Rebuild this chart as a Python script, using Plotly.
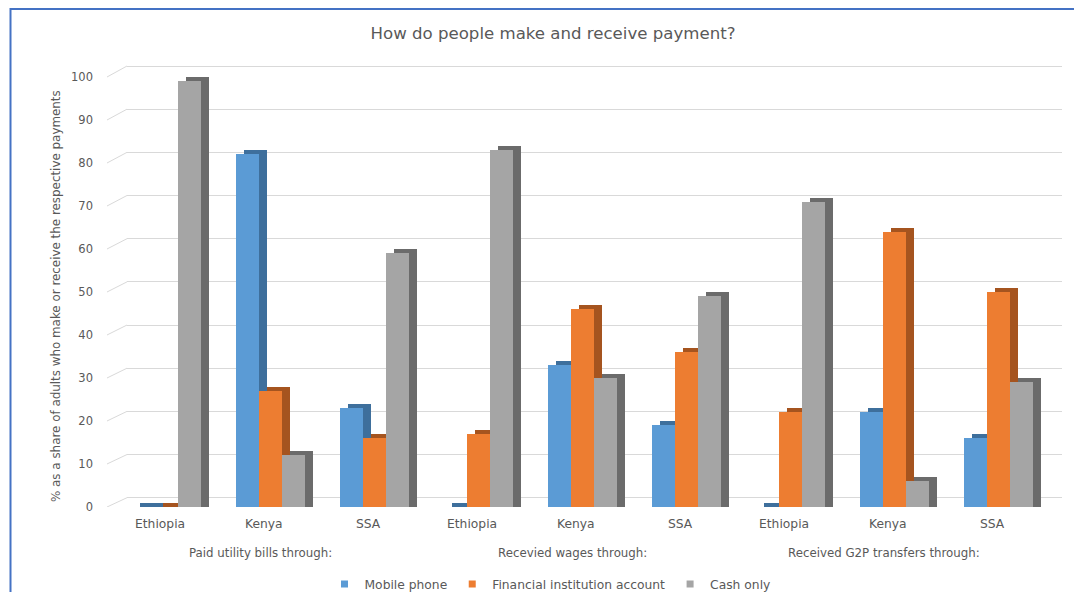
import plotly.graph_objects as go

# ---------------- data ----------------
categories = ["Ethiopia", "Kenya", "SSA", "Ethiopia", "Kenya", "SSA", "Ethiopia", "Kenya", "SSA"]
group_labels = ["Paid utility bills through:", "Recevied wages through:", "Received G2P transfers through:"]
series_names = ["Mobile phone", "Financial institution account", "Cash only"]
mobile_phone = [0, 82, 23, 0, 33, 19, 0, 22, 16]
financial_account = [0, 27, 16, 17, 46, 36, 22, 64, 50]
cash_only = [99, 12, 59, 83, 30, 49, 71, 6, 29]
y_tick_values = [0, 10, 20, 30, 40, 50, 60, 70, 80, 90, 100]

# ---------------- styling / geometry ----------------
PAGE_PAD = 8  # default body margin of the html page
W, H = 1082 - 2 * PAGE_PAD, 600 - 2 * PAGE_PAD
PLOT_LEFT, PLOT_RIGHT, PLOT_TOP, PLOT_BOTTOM = 127, 1062, 64, 507   # in screenshot pixels
ML = PLOT_LEFT - PAGE_PAD
MR = W - (PLOT_RIGHT - PAGE_PAD)
MT = PLOT_TOP - PAGE_PAD
MB = H - (PLOT_BOTTOM - PAGE_PAD)
PW, PH = W - ML - MR, H - MT - MB

PX_PER_UNIT_Y = 4.3         # front plane
PX_PER_UNIT_Y_BACK = 4.317  # back wall
BACK_SHIFT_PX = 9.3
PX_PER_CAT = 104.0
X0_PX = 39.0                # first category centre, from plot left

front_colors = ["#5B9BD5", "#ED7D31", "#A5A5A5"]
side_colors = ["#3E6F9C", "#A5541F", "#6B6B6B"]
TXT = "#595959"
FONT = "DejaVu Sans"

bar_w = 23.0 / PX_PER_CAT
depth_dx = 8.0 / PX_PER_CAT
depth_dy = 4.0 / PX_PER_UNIT_Y

x_lo = -X0_PX / PX_PER_CAT
x_hi = x_lo + PW / PX_PER_CAT
y_hi = PH / PX_PER_UNIT_Y
y2_lo = -BACK_SHIFT_PX / PX_PER_UNIT_Y_BACK
y2_hi = y2_lo + PH / PX_PER_UNIT_Y_BACK


def px_to_paper_x(px):  # px in screenshot coordinates
    return (px - PLOT_LEFT) / PW


def px_to_paper_y(py):
    return (PLOT_BOTTOM - py) / PH


xpos = list(range(len(categories)))
series_vals = [mobile_phone, financial_account, cash_only]

fig = go.Figure()

# side/top faces (drawn first)
for s, vals in enumerate(series_vals):
    off = -1.5 * bar_w + s * bar_w + depth_dx
    fig.add_trace(go.Bar(
        x=xpos, y=[v + depth_dy for v in vals], base=0,
        width=bar_w, offset=off,
        marker=dict(color=side_colors[s], line=dict(width=0)),
        showlegend=False, hoverinfo="skip",
    ))

# front faces
for s, vals in enumerate(series_vals):
    off = -1.5 * bar_w + s * bar_w
    fig.add_trace(go.Bar(
        x=xpos, y=vals, name=series_names[s],
        width=bar_w, offset=off,
        marker=dict(color=front_colors[s], line=dict(width=0)),
        showlegend=False,
    ))

# legend entries (small square swatches)
for s in range(3):
    fig.add_trace(go.Scatter(
        x=[None], y=[None], mode="markers", name=series_names[s],
        marker=dict(symbol="square", size=7, color=front_colors[s]),
        showlegend=True, hoverinfo="skip",
    ))

# invisible trace carrying the back-wall gridline axis
fig.add_trace(go.Scatter(x=[0], y=[0], yaxis="y2", mode="markers",
                         marker=dict(opacity=0), showlegend=False, hoverinfo="skip"))

shapes = []
# diagonal connectors from front ticks to the back wall
for v in y_tick_values:
    back_px_above = BACK_SHIFT_PX + PX_PER_UNIT_Y_BACK * v
    shapes.append(dict(type="line", xref="paper", yref="y", layer="below",
                       x0=-20.0 / PW, x1=0, y0=v, y1=back_px_above / PX_PER_UNIT_Y,
                       line=dict(color="#D9D9D9", width=1)))

# outer frame (blue border on top and left)
shapes.append(dict(type="line", xref="paper", yref="paper",
                   x0=px_to_paper_x(10), x1=px_to_paper_x(1090),
                   y0=px_to_paper_y(9), y1=px_to_paper_y(9),
                   line=dict(color="#4472C4", width=2)))
shapes.append(dict(type="line", xref="paper", yref="paper",
                   x0=px_to_paper_x(10.5), x1=px_to_paper_x(10.5),
                   y0=px_to_paper_y(8), y1=px_to_paper_y(610),
                   line=dict(color="#4472C4", width=2)))

annotations = []
for i, c in enumerate(categories):
    annotations.append(dict(x=i, y=0, xref="x", yref="paper", text=c, showarrow=False,
                            xanchor="center", yanchor="middle", yshift=-16.5, xshift=-6,
                            font=dict(family=FONT, size=12.3, color=TXT)))
for g, lab in enumerate(group_labels):
    annotations.append(dict(x=3 * g + 1, y=0, xref="x", yref="paper", text=lab, showarrow=False,
                            xanchor="center", yanchor="middle", yshift=-45.5, xshift=-10,
                            font=dict(family=FONT, size=11.8, color=TXT)))
annotations.append(dict(x=px_to_paper_x(56), y=px_to_paper_y(296), xref="paper", yref="paper",
                        text="% as a share of adults who make or receive the respective payments",
                        textangle=-90, showarrow=False, xanchor="center", yanchor="middle",
                        font=dict(family=FONT, size=11.9, color=TXT)))

fig.update_layout(
    width=W, height=H,
    margin=dict(l=ML, r=MR, t=MT, b=MB, autoexpand=False),
    paper_bgcolor="white", plot_bgcolor="white",
    barmode="overlay",
    title=dict(text="How do people make and receive payment?", x=(553 - PAGE_PAD) / W,
               xanchor="center", y=1 - (33 - PAGE_PAD) / H, yanchor="middle",
               font=dict(family=FONT, size=16.6, color=TXT)),
    xaxis=dict(range=[x_lo, x_hi], showgrid=False, zeroline=False, showticklabels=False,
               ticks="", showline=False, fixedrange=True),
    yaxis=dict(range=[0, y_hi], tickvals=y_tick_values, showgrid=False, zeroline=False,
               showline=False, ticks="", ticklabelstandoff=33,
               tickfont=dict(family=FONT, size=11.5, color=TXT)),
    yaxis2=dict(range=[y2_lo, y2_hi], overlaying="y", tickvals=y_tick_values,
                showgrid=True, gridcolor="#D9D9D9", gridwidth=1, zeroline=False,
                showticklabels=False, ticks="", showline=False),
    legend=dict(orientation="h", x=px_to_paper_x(550), xanchor="center",
                y=px_to_paper_y(584), yanchor="middle", itemwidth=30,
                font=dict(family=FONT, size=12.3, color=TXT), traceorder="normal"),
    shapes=shapes, annotations=annotations,
    bargap=0,
)

fig.write_html("out.html")
